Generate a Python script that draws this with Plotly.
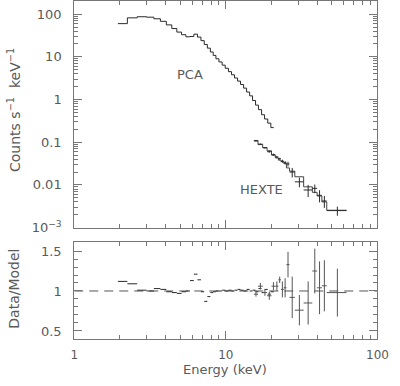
import numpy as np
import plotly.graph_objects as go

# ---------------- data ----------------
# PCA spectrum: bin edges (keV) and count rate (counts/s/keV)
pca_edges = [1.94, 2.24, 2.6, 3.0, 3.35, 3.7, 4.05, 4.4, 4.75, 5.1, 5.45, 5.8, 6.15, 6.5,
             6.85, 7.2, 7.55, 7.9, 8.25, 8.6, 9.0, 9.45, 9.9, 10.4, 10.9, 11.4, 11.95,
             12.5, 13.1, 13.7, 14.35, 15.0, 15.7, 16.4, 17.2, 18.0, 18.9, 19.8, 20.7]
pca_rate = [60, 82, 87, 85, 78, 68, 56, 46, 38, 33, 29.5, 30, 34, 29, 24, 19.5, 16, 13,
            10.8, 9.0, 7.6, 6.4, 5.4, 4.5, 3.8, 3.2, 2.7, 2.25, 1.85, 1.5, 1.22, 0.95,
            0.74, 0.58, 0.44, 0.35, 0.28, 0.22]
pca_ratio = [1.12, 1.09, 1.01, 1.00, 1.03, 1.02, 0.99, 0.98, 0.97, 0.99, 1.00, 1.13, 1.21,
             1.14, 0.99, 0.87, 0.93, 0.98, 0.99, 1.00, 1.00, 1.01, 1.00, 1.01, 1.00, 1.01,
             1.02, 1.01, 1.00, 1.02, 1.00, 1.01, 0.99, 1.03, 0.98, 1.02, 0.96, 0.99]

# HEXTE spectrum
hexte_edges = [15.3, 16.3, 17.5, 18.7, 20.0, 21.2, 22.2, 23.1, 24.1, 25.1, 26.3, 28.5,
               32.6, 37.2, 40.0, 43.0, 46.3, 62.5]
hexte_rate = [0.107, 0.090, 0.074, 0.060, 0.051, 0.045, 0.041, 0.036, 0.033, 0.031, 0.020,
              0.0118, 0.0076, 0.0083, 0.0057, 0.0042, 0.0025]
hexte_err = [0.003, 0.003, 0.003, 0.003, 0.003, 0.003, 0.002, 0.003, 0.003, 0.004, 0.005,
             0.003, 0.0024, 0.0019, 0.0018, 0.0013, 0.0006]
hexte_model = [0.110, 0.088, 0.075, 0.063, 0.050, 0.043, 0.038, 0.035, 0.032, 0.025, 0.021,
               0.0155, 0.0090, 0.0067, 0.0055, 0.0040, 0.00255]
hexte_ratio = [0.96, 1.06, 0.98, 0.94, 1.06, 1.06, 1.14, 1.02, 1.04, 1.33, 0.92, 0.76, 0.85,
               1.25, 1.04, 1.065, 0.98]
hexte_ratio_err = [0.03, 0.04, 0.04, 0.05, 0.05, 0.06, 0.04, 0.10, 0.12, 0.16, 0.26, 0.19,
                   0.27, 0.28, 0.33, 0.32, 0.30]

model_line_x = [1, 100]
model_line_y = [1, 1]

y_tickvals = [0.001, 0.01, 0.1, 1, 10, 100]
y_ticktext = ["10<sup>\u22123</sup>", "0.01", "0.1", "1", "10", "100"]
x_tickvals = [1, 10, 100]
x_ticktext = ["1", "10", "100"]
r_tickvals = [0.5, 1, 1.5]
r_ticktext = ["0.5", "1", "1.5"]

# ---------------- helpers ----------------
def centers(edges):
    e = np.array(edges, dtype=float)
    c = (e[:-1] + e[1:]) / 2
    return c, c - e[:-1], e[1:] - c

pca_c, pca_m, pca_p = centers(pca_edges)
hx_c, hx_m, hx_p = centers(hexte_edges)

DATA = "#2a2a2a"
FRAME = "#777777"
TEXT = "#5a5a5a"
FONT = "DejaVu Sans"
NOMARK = dict(size=1, color="rgba(0,0,0,0)")

W, H = 400, 386
def px(x):
    return x / W
def py(y):
    return 1 - y / H

fig = go.Figure()

# top panel
fig.add_trace(go.Scatter(x=pca_edges, y=pca_rate + [pca_rate[-1]], mode="lines",
                         line=dict(shape="hv", color=DATA, width=1), xaxis="x", yaxis="y"))
fig.add_trace(go.Scatter(x=hexte_edges, y=hexte_model + [hexte_model[-1]], mode="lines",
                         line=dict(shape="hv", color="#444", width=1), xaxis="x", yaxis="y"))
fig.add_trace(go.Scatter(x=hx_c, y=hexte_rate, mode="markers", marker=NOMARK,
                         error_x=dict(type="data", symmetric=False, array=hx_p, arrayminus=hx_m,
                                      thickness=1, width=0, color=DATA),
                         error_y=dict(type="data", array=hexte_err, thickness=1, width=0, color=DATA),
                         xaxis="x", yaxis="y"))

# bottom panel
fig.add_trace(go.Scatter(x=model_line_x, y=model_line_y, mode="lines",
                         line=dict(color="#555", width=1, dash="9px,6px"), xaxis="x2", yaxis="y2"))
fig.add_trace(go.Scatter(x=pca_c, y=pca_ratio, mode="markers", marker=NOMARK,
                         error_x=dict(type="data", symmetric=False, array=pca_p, arrayminus=pca_m,
                                      thickness=1, width=0, color=DATA),
                         xaxis="x2", yaxis="y2"))
fig.add_trace(go.Scatter(x=hx_c, y=hexte_ratio, mode="markers", marker=NOMARK,
                         error_x=dict(type="data", symmetric=False, array=hx_p, arrayminus=hx_m,
                                      thickness=1, width=0, color="#555"),
                         error_y=dict(type="data", array=hexte_ratio_err, thickness=1, width=0, color="#555"),
                         xaxis="x2", yaxis="y2"))

minor_log = [m * 10 ** d for d in range(-4, 3) for m in range(2, 10)]
minor_lin = [round(0.4 + 0.1 * i, 2) for i in range(13)]

def minor(vals):
    return dict(ticks="inside", ticklen=4, tickcolor=FRAME, tickmode="array", tickvals=vals)

xdom = [px(73), px(388)]
common = dict(showline=True, linecolor=FRAME, linewidth=1, mirror="ticks", ticks="inside",
              tickcolor=FRAME, tickwidth=1, showgrid=False, zeroline=False,
              tickfont=dict(family=FONT, size=13, color=TEXT))
common_x2 = dict(common, tickfont=dict(family=FONT, size=12, color=TEXT))

fig.update_layout(
    width=W, height=H, margin=dict(l=0, r=0, t=0, b=0),
    paper_bgcolor="white", plot_bgcolor="white", showlegend=False,
    xaxis=dict(type="log", range=[0, 2], domain=xdom, anchor="y", tickmode="array",
               tickvals=x_tickvals, showticklabels=False, ticklen=8,
               minor=minor(minor_log), **common),
    yaxis=dict(type="log", range=[-3, 2.297], domain=[py(232), py(0.5)], anchor="x",
               tickmode="array", tickvals=y_tickvals, ticktext=y_ticktext, ticklen=8,
               ticklabelstandoff=9, minor=minor(minor_log), **common),
    xaxis2=dict(type="log", range=[0, 2], domain=xdom, anchor="y2", tickmode="array",
                tickvals=x_tickvals, ticktext=x_ticktext, ticklen=8, ticklabelstandoff=5,
                ticklabeloverflow="allow", minor=minor(minor_log), **common_x2),
    yaxis2=dict(range=[0.4, 1.61], domain=[py(346), py(247)], anchor="x2", tickmode="array",
                tickvals=r_tickvals, ticktext=r_ticktext, ticklen=8, ticklabelstandoff=9,
                minor=minor(minor_lin), **common),
)

def ann(text, x, y, xref="paper", yref="paper", angle=0, size=13):
    fig.add_annotation(text=text, xref=xref, yref=yref, x=x, y=y, textangle=angle,
                       xanchor="center", yanchor="middle", showarrow=False,
                       font=dict(family=FONT, size=size, color=TEXT))

ann("Counts s<sup>\u22121</sup>  keV<sup>\u22121</sup>", px(11), py(112), angle=-90, size=14)
ann("Data/Model", px(11), py(295), angle=-90, size=14)
ann("Energy (keV)", px(230), py(377.5))
ann("PCA", np.log10(5.8), np.log10(3.8), xref="x", yref="y")
ann("HEXTE", np.log10(17.2), np.log10(0.0078), xref="x", yref="y")

fig.write_html("out.html", config={"displayModeBar": False},
               post_script="document.body.style.margin='0px';")
